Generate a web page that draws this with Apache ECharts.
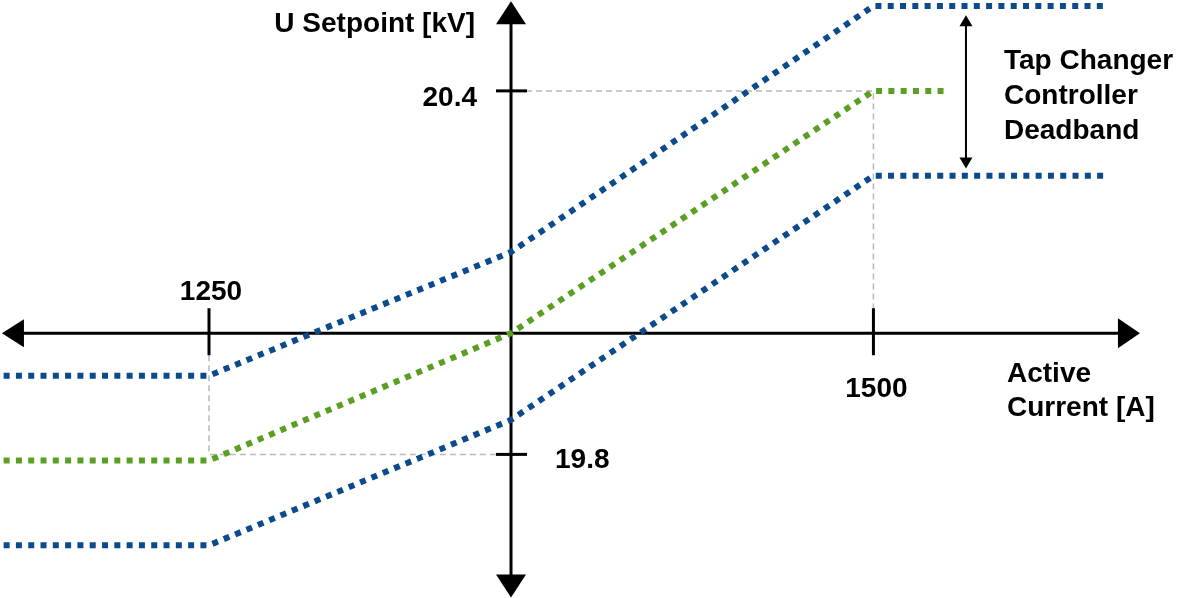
<!DOCTYPE html>
<html>
<head>
<meta charset="utf-8">
<script src="https://cdn.jsdelivr.net/npm/echarts@6/dist/echarts.min.js"></script>
<style>
html,body{margin:0;padding:0;background:#fff;}
#chart{width:1181px;height:598px;}
</style>
</head>
<body>
<div id="chart"></div>
<script>
// ---- data ----
const upperX = [-2100, -1250, 0, 1500, 2460];
const upperKV = [19.93, 19.93, 20.134, 20.54, 20.54];
const setpointX = [-2100, -1250, 0, 1500, 1800];
const setpointKV = [19.79, 19.79, 20.0, 20.4, 20.4];
const lowerX = [-2100, -1250, 0, 1500, 2460];
const lowerKV = [19.65, 19.65, 19.857, 20.26, 20.26];

const xTickValues = [-1250, 1500];
const xTickLabels = ['1250', '1500'];
const yTickValues = [19.8, 20.4];
const yTickLabels = ['19.8', '20.4'];

const xAxisName = 'Active\nCurrent [A]';
const yAxisName = 'U Setpoint [kV]';
const deadbandText = 'Tap Changer\nController\nDeadband';
const deadbandX = 1883;
const deadbandKV = [20.525, 20.272];

const axisCrossKV = 20.0;
const xAxisSpan = [-2107, 2603];
const yAxisSpan = [19.564, 20.548];

const BLUE = '#0b4a8b';
const GREEN = '#5b9f22';
const GRAY = '#b9b9b9';
const FONT = 'bold 28px "Liberation Sans", Arial, sans-serif';

function zip(xs, ys) { return xs.map((x, i) => [x, ys[i]]); }

const chart = echarts.init(document.getElementById('chart'), null, {renderer: 'canvas'});

function renderAxes(params, api) {
  const o = api.coord([0, axisCrossKV]);
  const L = api.coord([xAxisSpan[0], axisCrossKV]);
  const R = api.coord([xAxisSpan[1], axisCrossKV]);
  const T = api.coord([0, yAxisSpan[1]]);
  const B = api.coord([0, yAxisSpan[0]]);
  const black = {stroke: '#000', lineWidth: 3, fill: null};
  const kids = [];

  // dashed guides
  const a = api.coord([xTickValues[0], yTickValues[0]]);
  const b = api.coord([xTickValues[1], yTickValues[1]]);
  kids.push({type: 'polyline', shape: {points: [[a[0], o[1] + 22], a, [o[0] - 15, a[1]]]},
    style: {stroke: GRAY, lineWidth: 1.5, lineDash: [6, 4], fill: null}});
  kids.push({type: 'polyline', shape: {points: [[o[0] + 15, b[1]], b, [b[0], o[1] - 25]]},
    style: {stroke: GRAY, lineWidth: 1.5, lineDash: [6, 4], fill: null}});

  // axis lines
  kids.push({type: 'line', shape: {x1: L[0] + 10, y1: o[1], x2: R[0] - 10, y2: o[1]}, style: black});
  kids.push({type: 'line', shape: {x1: o[0], y1: T[1] + 10, x2: o[0], y2: B[1] - 10}, style: black});
  // arrowheads
  kids.push({type: 'polygon', shape: {points: [[L[0], o[1]], [L[0] + 22, o[1] - 14], [L[0] + 22, o[1] + 14]]}, style: {fill: '#000'}});
  kids.push({type: 'polygon', shape: {points: [[R[0], o[1]], [R[0] - 22, o[1] - 15], [R[0] - 22, o[1] + 15]]}, style: {fill: '#000'}});
  kids.push({type: 'polygon', shape: {points: [[o[0], T[1]], [o[0] - 15, T[1] + 23], [o[0] + 15, T[1] + 23]]}, style: {fill: '#000'}});
  kids.push({type: 'polygon', shape: {points: [[o[0], B[1]], [o[0] - 15, B[1] - 23], [o[0] + 15, B[1] - 23]]}, style: {fill: '#000'}});

  // ticks
  xTickValues.forEach(v => {
    const p = api.coord([v, axisCrossKV]);
    kids.push({type: 'line', shape: {x1: p[0], y1: p[1] - 25, x2: p[0], y2: p[1] + 22}, style: black});
  });
  yTickValues.forEach(v => {
    const p = api.coord([0, v]);
    kids.push({type: 'line', shape: {x1: p[0] - 15, y1: p[1], x2: p[0] + 16, y2: p[1]}, style: black});
  });

  // tick labels
  const t0 = api.coord([xTickValues[0], axisCrossKV]);
  const t1 = api.coord([xTickValues[1], axisCrossKV]);
  kids.push({type: 'text', style: {text: xTickLabels[0], x: t0[0] + 2, y: o[1] - 41, font: FONT, fill: '#000', align: 'center', verticalAlign: 'middle'}});
  kids.push({type: 'text', style: {text: xTickLabels[1], x: t1[0] + 3, y: o[1] + 56, font: FONT, fill: '#000', align: 'center', verticalAlign: 'middle'}});
  const u0 = api.coord([0, yTickValues[0]]);
  const u1 = api.coord([0, yTickValues[1]]);
  kids.push({type: 'text', style: {text: yTickLabels[0], x: o[0] + 44, y: u0[1] + 6, font: FONT, fill: '#000', align: 'left', verticalAlign: 'middle'}});
  kids.push({type: 'text', style: {text: yTickLabels[1], x: o[0] - 34, y: u1[1] + 7, font: FONT, fill: '#000', align: 'right', verticalAlign: 'middle'}});

  // axis names
  kids.push({type: 'text', style: {text: yAxisName, x: o[0] - 36, y: T[1] + 23, font: FONT, fill: '#000', align: 'right', verticalAlign: 'middle'}});
  kids.push({type: 'text', style: {text: xAxisName, x: 1007, y: o[1] + 58, font: FONT, fill: '#000', align: 'left', verticalAlign: 'middle', lineHeight: 34}});

  return {type: 'group', children: kids};
}

function renderDeadband(params, api) {
  const p = api.coord([deadbandX, deadbandKV[0]]);
  const q = api.coord([deadbandX, deadbandKV[1]]);
  return {type: 'group', children: [
    {type: 'line', shape: {x1: p[0], y1: p[1] + 6, x2: q[0], y2: q[1] - 6}, style: {stroke: '#000', lineWidth: 2}},
    {type: 'polygon', shape: {points: [[p[0], p[1]], [p[0] - 6.5, p[1] + 11], [p[0] + 6.5, p[1] + 11]]}, style: {fill: '#000'}},
    {type: 'polygon', shape: {points: [[q[0], q[1]], [q[0] - 6.5, q[1] - 11], [q[0] + 6.5, q[1] - 11]]}, style: {fill: '#000'}},
    {type: 'text', style: {text: deadbandText, x: 1004, y: (p[1] + q[1]) / 2 + 4, font: FONT, fill: '#000', align: 'left', verticalAlign: 'middle', lineHeight: 35}}
  ]};
}

const dotted = (color) => ({width: 6, color: color, type: [6, 6.3], cap: 'butt', join: 'miter'});

chart.setOption({
  animation: false,
  backgroundColor: '#fff',
  grid: {left: 0, right: 0, top: 0, bottom: 0, containLabel: false},
  xAxis: {type: 'value', min: -2115, max: 2773, show: false},
  yAxis: {type: 'value', min: 19.563, max: 20.55, show: false},
  series: [
    {type: 'custom', renderItem: renderAxes, data: [[0, 20]], clip: false, silent: true, z: 1},
    {type: 'line', data: zip(upperX, upperKV), symbol: 'none', lineStyle: dotted(BLUE), clip: false, silent: true, z: 3},
    {type: 'line', data: zip(setpointX, setpointKV), symbol: 'none', lineStyle: dotted(GREEN), clip: false, silent: true, z: 3},
    {type: 'line', data: zip(lowerX, lowerKV), symbol: 'none', lineStyle: dotted(BLUE), clip: false, silent: true, z: 3},
    {type: 'custom', renderItem: renderDeadband, data: [[deadbandX, 20.4]], clip: false, silent: true, z: 4}
  ]
});
</script>
</body>
</html>
